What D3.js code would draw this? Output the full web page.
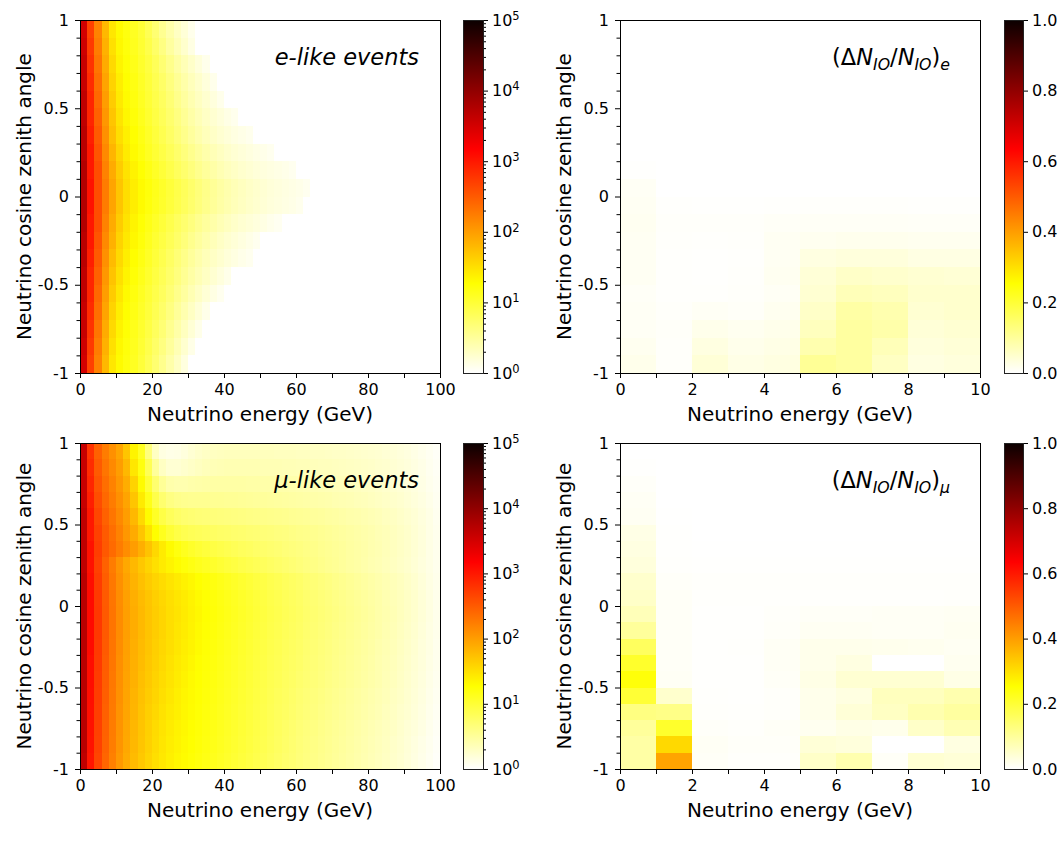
<!DOCTYPE html>
<html>
<head>
<meta charset="utf-8">
<script src="https://cdn.jsdelivr.net/npm/d3@7"></script>
<style>
  body { margin: 0; background: #fff; }
  svg { font-family: "DejaVu Sans", sans-serif; display: block; }
</style>
</head>
<body>
<svg id="chart" width="1062" height="845"></svg>
<script>
// bin edges
const cosEdges = [-1, -0.9, -0.8, -0.7, -0.6, -0.5, -0.4, -0.3, -0.2, -0.1, 0,
  0.1, 0.2, 0.3, 0.4, 0.5, 0.6, 0.7, 0.8, 0.9, 1];
const energyEdgesWide = [0, 2, 4, 6, 8, 10, 12, 14, 16, 18, 20, 22, 24, 26, 28, 30,
  32, 34, 36, 38, 40, 42, 44, 46, 48, 50, 52, 54, 56, 58, 60, 62, 64, 66, 68, 70,
  72, 74, 76, 78, 80, 82, 84, 86, 88, 90, 92, 94, 96, 98, 100];
const energyEdgesNarrow = [0, 1, 2, 3, 4, 5, 6, 7, 8, 9, 10];

// ticks
const cosTicks = [-1, -0.5, 0, 0.5, 1];
const cosMinorTicks = [-0.9, -0.8, -0.7, -0.6, -0.4, -0.3, -0.2, -0.1,
  0.1, 0.2, 0.3, 0.4, 0.6, 0.7, 0.8, 0.9];
const wideTicks = [0, 20, 40, 60, 80, 100];
const wideMinorTicks = [10, 30, 50, 70, 90];
const narrowTicks = [0, 2, 4, 6, 8, 10];
const narrowMinorTicks = [1, 3, 5, 7, 9];
const logTicks = [1, 10, 100, 1000, 10000, 100000];
const logMinorTicks = [2, 3, 4, 5, 6, 7, 8, 9, 20, 30, 40, 50, 60, 70, 80, 90,
  200, 300, 400, 500, 600, 700, 800, 900, 2000, 3000, 4000, 5000, 6000, 7000, 8000, 9000,
  20000, 30000, 40000, 50000, 60000, 70000, 80000, 90000];
const ratioTicks = [0, 0.2, 0.4, 0.6, 0.8, 1];

// e-like events, log10(count) per 2 GeV bin, rows from cos = 1 down to cos = -1
const eLikeExp = [
  [3.5, 2.7, 2.2, 1.8, 1.45, 1.3, 1.2, 1.1, 1.0, 0.85, 0.7, 0.55, 0.42, 0.3, 0.2, 0.1],
  [3.55, 2.75, 2.25, 1.85, 1.5, 1.32, 1.22, 1.12, 1.02, 0.9, 0.76, 0.62, 0.48, 0.36, 0.25, 0.14],
  [3.6, 2.8, 2.3, 1.9, 1.55, 1.35, 1.25, 1.15, 1.05, 0.95, 0.83, 0.7, 0.58, 0.46, 0.36, 0.27, 0.18, 0.1],
  [3.6, 2.85, 2.35, 1.95, 1.6, 1.4, 1.28, 1.18, 1.08, 0.98, 0.87, 0.76, 0.64, 0.53, 0.43, 0.34, 0.26, 0.18, 0.1],
  [3.65, 2.9, 2.4, 2.0, 1.65, 1.43, 1.3, 1.2, 1.1, 1.0, 0.9, 0.8, 0.69, 0.58, 0.48, 0.39, 0.31, 0.24, 0.17, 0.1],
  [3.65, 2.9, 2.45, 2.05, 1.7, 1.47, 1.33, 1.23, 1.13, 1.03, 0.93, 0.83, 0.73, 0.63, 0.53, 0.44, 0.36, 0.29, 0.23, 0.18, 0.13, 0.09],
  [3.7, 2.95, 2.5, 2.1, 1.75, 1.52, 1.38, 1.27, 1.17, 1.07, 0.97, 0.87, 0.77, 0.67, 0.58, 0.49, 0.41, 0.34, 0.28, 0.23, 0.19, 0.15, 0.12, 0.09],
  [3.7, 3.0, 2.55, 2.15, 1.82, 1.58, 1.42, 1.3, 1.2, 1.1, 1.01, 0.92, 0.83, 0.74, 0.65, 0.57, 0.49, 0.42, 0.36, 0.31, 0.26, 0.22, 0.19, 0.16, 0.13, 0.11, 0.08],
  [3.75, 3.0, 2.6, 2.2, 1.9, 1.65, 1.48, 1.36, 1.26, 1.17, 1.08, 0.99, 0.9, 0.81, 0.73, 0.65, 0.57, 0.5, 0.44, 0.38, 0.33, 0.29, 0.25, 0.22, 0.19, 0.17, 0.15, 0.13, 0.11, 0.08],
  [3.75, 3.05, 2.6, 2.25, 1.95, 1.7, 1.52, 1.4, 1.3, 1.22, 1.14, 1.06, 0.98, 0.9, 0.82, 0.74, 0.66, 0.59, 0.52, 0.46, 0.41, 0.36, 0.32, 0.28, 0.25, 0.22, 0.19, 0.17, 0.15, 0.13, 0.11, 0.08],
  [3.75, 3.05, 2.6, 2.25, 1.95, 1.7, 1.52, 1.4, 1.3, 1.21, 1.13, 1.05, 0.97, 0.89, 0.81, 0.73, 0.65, 0.58, 0.51, 0.45, 0.4, 0.35, 0.31, 0.27, 0.24, 0.21, 0.18, 0.16, 0.14, 0.12, 0.09],
  [3.75, 3.0, 2.6, 2.2, 1.9, 1.65, 1.48, 1.35, 1.25, 1.16, 1.07, 0.98, 0.89, 0.8, 0.72, 0.64, 0.56, 0.49, 0.43, 0.37, 0.32, 0.27, 0.23, 0.2, 0.17, 0.14, 0.1, 0.07],
  [3.7, 3.0, 2.55, 2.15, 1.85, 1.6, 1.44, 1.32, 1.22, 1.12, 1.02, 0.93, 0.84, 0.75, 0.66, 0.57, 0.49, 0.42, 0.35, 0.29, 0.24, 0.2, 0.16, 0.12, 0.08],
  [3.7, 2.95, 2.5, 2.1, 1.78, 1.55, 1.4, 1.28, 1.18, 1.08, 0.98, 0.88, 0.78, 0.68, 0.59, 0.5, 0.42, 0.35, 0.29, 0.24, 0.19, 0.15, 0.11, 0.08],
  [3.65, 2.9, 2.45, 2.05, 1.72, 1.5, 1.35, 1.24, 1.14, 1.04, 0.94, 0.84, 0.74, 0.64, 0.54, 0.45, 0.37, 0.3, 0.23, 0.17, 0.11],
  [3.65, 2.9, 2.4, 2.0, 1.66, 1.45, 1.31, 1.2, 1.1, 1.0, 0.9, 0.8, 0.69, 0.58, 0.48, 0.38, 0.29, 0.21, 0.14, 0.08],
  [3.6, 2.85, 2.35, 1.95, 1.6, 1.4, 1.28, 1.17, 1.07, 0.97, 0.86, 0.75, 0.63, 0.51, 0.4, 0.3, 0.2, 0.11],
  [3.6, 2.8, 2.3, 1.9, 1.55, 1.36, 1.25, 1.14, 1.04, 0.93, 0.81, 0.69, 0.56, 0.44, 0.32, 0.21, 0.11],
  [3.55, 2.75, 2.25, 1.85, 1.5, 1.32, 1.22, 1.12, 1.01, 0.89, 0.76, 0.63, 0.5, 0.37, 0.24, 0.12],
  [3.5, 2.7, 2.2, 1.8, 1.45, 1.3, 1.2, 1.1, 0.98, 0.85, 0.71, 0.57, 0.43, 0.3, 0.16]
];

// mu-like events, log10(count) per 2 GeV bin, rows from cos = 1 down to cos = -1
const muLikeExp = [
  [3.6, 2.8, 2.45, 2.25, 2.1, 1.95, 1.7, 1.35, 1.1, 0.65,
   0.3, 0.15, 0.12, 0.13, 0.17, 0.22, 0.26, 0.29, 0.31, 0.32,
   0.33, 0.33, 0.33, 0.33, 0.33, 0.33, 0.33, 0.32, 0.32, 0.32,
   0.31, 0.31, 0.3, 0.3, 0.29, 0.28, 0.28, 0.27, 0.26, 0.25,
   0.24, 0.23, 0.21, 0.2, 0.18, 0.16, 0.13, 0.1, 0.07, 0.04],
  [3.6, 2.85, 2.5, 2.3, 2.15, 2.0, 1.8, 1.45, 1.2, 0.85,
   0.5, 0.3, 0.22, 0.22, 0.25, 0.28, 0.31, 0.34, 0.36, 0.37,
   0.38, 0.38, 0.38, 0.38, 0.38, 0.37, 0.37, 0.37, 0.36, 0.36,
   0.35, 0.35, 0.34, 0.33, 0.33, 0.32, 0.31, 0.3, 0.29, 0.28,
   0.27, 0.25, 0.24, 0.22, 0.2, 0.18, 0.15, 0.12, 0.08, 0.05],
  [3.6, 2.9, 2.55, 2.35, 2.2, 2.05, 1.88, 1.6, 1.3, 1.0,
   0.72, 0.52, 0.42, 0.4, 0.4, 0.42, 0.43, 0.44, 0.45, 0.45,
   0.45, 0.45, 0.45, 0.44, 0.44, 0.43, 0.43, 0.42, 0.42, 0.41,
   0.4, 0.39, 0.38, 0.37, 0.36, 0.35, 0.34, 0.33, 0.32, 0.3,
   0.29, 0.27, 0.25, 0.23, 0.21, 0.19, 0.16, 0.13, 0.09, 0.06],
  [3.6, 2.95, 2.6, 2.4, 2.25, 2.1, 1.95, 1.7, 1.42, 1.15,
   0.9, 0.72, 0.62, 0.58, 0.56, 0.55, 0.55, 0.55, 0.54, 0.54,
   0.53, 0.53, 0.52, 0.51, 0.5, 0.5, 0.49, 0.48, 0.47, 0.46,
   0.45, 0.44, 0.43, 0.42, 0.41, 0.39, 0.38, 0.37, 0.35, 0.34,
   0.32, 0.3, 0.28, 0.26, 0.24, 0.21, 0.18, 0.15, 0.11, 0.07],
  [3.65, 3.0, 2.65, 2.45, 2.3, 2.15, 2.0, 1.8, 1.55, 1.3,
   1.08, 0.92, 0.82, 0.76, 0.72, 0.7, 0.68, 0.67, 0.66, 0.65,
   0.64, 0.63, 0.62, 0.61, 0.6, 0.59, 0.58, 0.57, 0.56, 0.54,
   0.53, 0.52, 0.5, 0.49, 0.47, 0.46, 0.44, 0.42, 0.41, 0.39,
   0.37, 0.35, 0.32, 0.3, 0.27, 0.24, 0.21, 0.17, 0.13, 0.08],
  [3.65, 3.0, 2.7, 2.5, 2.35, 2.2, 2.05, 1.9, 1.7, 1.48,
   1.28, 1.12, 1.0, 0.92, 0.87, 0.84, 0.82, 0.8, 0.78, 0.76,
   0.75, 0.73, 0.72, 0.7, 0.69, 0.67, 0.66, 0.64, 0.63, 0.61,
   0.59, 0.58, 0.56, 0.54, 0.52, 0.5, 0.48, 0.46, 0.44, 0.42,
   0.4, 0.37, 0.35, 0.32, 0.29, 0.26, 0.22, 0.18, 0.13, 0.09],
  [3.65, 3.05, 2.72, 2.52, 2.38, 2.25, 2.12, 2.0, 1.87, 1.72,
   1.56, 1.42, 1.3, 1.2, 1.12, 1.06, 1.01, 0.97, 0.93, 0.9,
   0.87, 0.84, 0.81, 0.79, 0.76, 0.74, 0.72, 0.7, 0.67, 0.65,
   0.63, 0.61, 0.59, 0.56, 0.54, 0.52, 0.5, 0.47, 0.45, 0.43,
   0.4, 0.38, 0.35, 0.32, 0.29, 0.26, 0.22, 0.18, 0.13, 0.09],
  [3.65, 3.05, 2.7, 2.45, 2.25, 2.07, 1.92, 1.8, 1.69, 1.59,
   1.5, 1.42, 1.35, 1.29, 1.23, 1.18, 1.13, 1.09, 1.05, 1.01,
   0.97, 0.94, 0.9, 0.87, 0.84, 0.81, 0.78, 0.75, 0.72, 0.69,
   0.66, 0.63, 0.61, 0.58, 0.55, 0.53, 0.5, 0.47, 0.45, 0.42,
   0.39, 0.37, 0.34, 0.31, 0.28, 0.25, 0.21, 0.17, 0.13, 0.09],
  [3.7, 3.08, 2.73, 2.48, 2.28, 2.1, 1.96, 1.84, 1.74, 1.66,
   1.59, 1.53, 1.47, 1.42, 1.37, 1.32, 1.27, 1.23, 1.19, 1.15,
   1.11, 1.07, 1.03, 0.99, 0.95, 0.92, 0.88, 0.85, 0.81, 0.78,
   0.75, 0.71, 0.68, 0.65, 0.62, 0.59, 0.56, 0.53, 0.5, 0.47,
   0.44, 0.41, 0.38, 0.35, 0.32, 0.28, 0.24, 0.19, 0.14, 0.1],
  [3.7, 3.1, 2.75, 2.5, 2.3, 2.12, 1.98, 1.87, 1.78, 1.7,
   1.63, 1.57, 1.51, 1.46, 1.41, 1.36, 1.31, 1.26, 1.22, 1.18,
   1.14, 1.1, 1.06, 1.02, 0.98, 0.94, 0.9, 0.87, 0.83, 0.8,
   0.77, 0.73, 0.7, 0.67, 0.64, 0.61, 0.58, 0.55, 0.52, 0.49,
   0.46, 0.43, 0.39, 0.36, 0.33, 0.29, 0.25, 0.2, 0.15, 0.1],
  [3.7, 3.1, 2.76, 2.51, 2.31, 2.13, 1.99, 1.88, 1.79, 1.71,
   1.64, 1.58, 1.52, 1.47, 1.42, 1.37, 1.32, 1.27, 1.23, 1.19,
   1.15, 1.11, 1.07, 1.03, 0.99, 0.95, 0.91, 0.88, 0.84, 0.81,
   0.78, 0.74, 0.71, 0.68, 0.65, 0.62, 0.59, 0.56, 0.53, 0.5,
   0.47, 0.43, 0.4, 0.37, 0.33, 0.29, 0.25, 0.2, 0.15, 0.1],
  [3.7, 3.1, 2.76, 2.51, 2.31, 2.13, 1.99, 1.88, 1.79, 1.71,
   1.64, 1.58, 1.52, 1.46, 1.41, 1.36, 1.31, 1.26, 1.22, 1.18,
   1.14, 1.1, 1.06, 1.02, 0.98, 0.94, 0.9, 0.87, 0.83, 0.8,
   0.77, 0.73, 0.7, 0.67, 0.64, 0.61, 0.58, 0.55, 0.52, 0.49,
   0.46, 0.43, 0.39, 0.36, 0.32, 0.28, 0.24, 0.19, 0.14, 0.1],
  [3.7, 3.1, 2.75, 2.5, 2.3, 2.12, 1.98, 1.87, 1.78, 1.7,
   1.63, 1.57, 1.51, 1.45, 1.4, 1.35, 1.3, 1.25, 1.21, 1.17,
   1.13, 1.09, 1.05, 1.01, 0.97, 0.93, 0.89, 0.86, 0.82, 0.79,
   0.76, 0.72, 0.69, 0.66, 0.63, 0.6, 0.57, 0.54, 0.51, 0.48,
   0.45, 0.41, 0.38, 0.35, 0.31, 0.27, 0.23, 0.18, 0.14, 0.09],
  [3.7, 3.08, 2.74, 2.49, 2.29, 2.11, 1.97, 1.86, 1.77, 1.69,
   1.62, 1.55, 1.49, 1.43, 1.38, 1.33, 1.28, 1.24, 1.2, 1.16,
   1.12, 1.08, 1.04, 1.0, 0.96, 0.92, 0.88, 0.85, 0.81, 0.78,
   0.75, 0.71, 0.68, 0.65, 0.62, 0.59, 0.56, 0.53, 0.5, 0.47,
   0.44, 0.4, 0.37, 0.34, 0.3, 0.26, 0.22, 0.18, 0.13, 0.09],
  [3.7, 3.08, 2.73, 2.48, 2.28, 2.1, 1.96, 1.85, 1.75, 1.67,
   1.6, 1.53, 1.47, 1.41, 1.36, 1.31, 1.27, 1.23, 1.19, 1.15,
   1.11, 1.07, 1.03, 0.99, 0.95, 0.91, 0.87, 0.84, 0.8, 0.77,
   0.73, 0.7, 0.67, 0.64, 0.61, 0.58, 0.55, 0.52, 0.49, 0.46,
   0.43, 0.4, 0.36, 0.33, 0.29, 0.25, 0.21, 0.17, 0.12, 0.08],
  [3.7, 3.07, 2.72, 2.47, 2.27, 2.09, 1.95, 1.83, 1.73, 1.65,
   1.58, 1.51, 1.45, 1.39, 1.34, 1.3, 1.26, 1.22, 1.18, 1.14,
   1.1, 1.06, 1.02, 0.98, 0.94, 0.9, 0.86, 0.82, 0.79, 0.75,
   0.71, 0.68, 0.65, 0.62, 0.59, 0.56, 0.53, 0.5, 0.47, 0.44,
   0.41, 0.38, 0.35, 0.31, 0.28, 0.24, 0.2, 0.16, 0.11, 0.07],
  [3.7, 3.06, 2.71, 2.46, 2.26, 2.08, 1.94, 1.82, 1.72, 1.63,
   1.56, 1.49, 1.43, 1.38, 1.33, 1.29, 1.25, 1.21, 1.17, 1.13,
   1.09, 1.05, 1.01, 0.97, 0.93, 0.89, 0.85, 0.81, 0.78, 0.74,
   0.7, 0.67, 0.64, 0.61, 0.58, 0.55, 0.52, 0.49, 0.46, 0.43,
   0.4, 0.37, 0.33, 0.3, 0.26, 0.23, 0.19, 0.15, 0.1, 0.06],
  [3.7, 3.05, 2.7, 2.45, 2.25, 2.07, 1.93, 1.81, 1.71, 1.62,
   1.54, 1.47, 1.41, 1.36, 1.32, 1.28, 1.24, 1.2, 1.16, 1.12,
   1.08, 1.04, 1.0, 0.96, 0.92, 0.88, 0.84, 0.8, 0.76, 0.72,
   0.68, 0.65, 0.62, 0.59, 0.56, 0.53, 0.5, 0.47, 0.44, 0.41,
   0.38, 0.35, 0.32, 0.29, 0.25, 0.21, 0.18, 0.14, 0.09, 0.05],
  [3.7, 3.04, 2.69, 2.44, 2.24, 2.06, 1.92, 1.8, 1.7, 1.61,
   1.53, 1.46, 1.4, 1.35, 1.31, 1.27, 1.23, 1.19, 1.15, 1.11,
   1.07, 1.03, 0.99, 0.95, 0.91, 0.87, 0.83, 0.79, 0.75, 0.71,
   0.67, 0.64, 0.61, 0.58, 0.55, 0.52, 0.49, 0.46, 0.43, 0.4,
   0.37, 0.34, 0.31, 0.27, 0.24, 0.2, 0.16, 0.12, 0.08, 0.04],
  [3.65, 3.02, 2.67, 2.42, 2.22, 2.04, 1.9, 1.78, 1.68, 1.59,
   1.51, 1.44, 1.38, 1.33, 1.29, 1.25, 1.21, 1.17, 1.13, 1.09,
   1.05, 1.01, 0.97, 0.93, 0.89, 0.85, 0.81, 0.77, 0.73, 0.7,
   0.66, 0.63, 0.6, 0.57, 0.54, 0.51, 0.48, 0.45, 0.42, 0.39,
   0.36, 0.33, 0.3, 0.26, 0.23, 0.19, 0.15, 0.11, 0.07, 0.03]
];

// (dN_IO / N_IO) per 1 GeV bin, rows from cos = 1 down to cos = -1
const eRatio = [
  [0, 0, 0, 0, 0, 0, 0, 0, 0, 0],
  [0, 0, 0, 0, 0, 0, 0, 0, 0, 0],
  [0, 0, 0, 0, 0, 0, 0, 0, 0, 0],
  [0, 0, 0, 0, 0, 0, 0, 0, 0, 0],
  [0, 0, 0, 0, 0, 0, 0, 0, 0, 0],
  [0, 0, 0, 0, 0, 0, 0, 0, 0, 0],
  [0, 0, 0, 0, 0, 0, 0, 0, 0, 0],
  [0, 0, 0, 0, 0, 0, 0, 0, 0, 0],
  [0.002, 0, 0, 0, 0, 0, 0, 0, 0, 0],
  [0.01, 0, 0, 0, 0, 0, 0, 0, 0, 0],
  [0.012, 0.003, 0.002, 0.002, 0.003, 0.004, 0.004, 0.004, 0.003, 0.003],
  [0.014, 0.005, 0.005, 0.005, 0.008, 0.009, 0.009, 0.009, 0.008, 0.008],
  [0.012, 0.004, 0.003, 0.004, 0.012, 0.015, 0.018, 0.018, 0.016, 0.016],
  [0.012, 0.003, 0.002, 0.003, 0.012, 0.03, 0.035, 0.035, 0.028, 0.028],
  [0.012, 0.003, 0.002, 0.004, 0.014, 0.04, 0.055, 0.05, 0.045, 0.042],
  [0.008, 0.003, 0.003, 0.005, 0.01, 0.045, 0.07, 0.065, 0.05, 0.05],
  [0.01, 0.005, 0.01, 0.007, 0.015, 0.055, 0.09, 0.08, 0.045, 0.05],
  [0.01, 0.006, 0.02, 0.015, 0.02, 0.065, 0.095, 0.085, 0.04, 0.045],
  [0.015, 0.005, 0.03, 0.02, 0.025, 0.08, 0.095, 0.07, 0.035, 0.04],
  [0.02, 0.005, 0.04, 0.025, 0.03, 0.105, 0.095, 0.06, 0.03, 0.035]
];

const muRatio = [
  [0, 0, 0, 0, 0, 0, 0, 0, 0, 0],
  [0.002, 0, 0, 0, 0, 0, 0, 0, 0, 0],
  [0.006, 0, 0, 0, 0, 0, 0, 0, 0, 0],
  [0.01, 0, 0, 0, 0, 0, 0, 0, 0, 0],
  [0.012, 0.001, 0, 0, 0, 0, 0, 0, 0, 0],
  [0.025, 0.002, 0, 0, 0, 0, 0, 0, 0, 0],
  [0.03, 0.002, 0.001, 0.001, 0.001, 0.001, 0.001, 0.001, 0.001, 0.001],
  [0.035, 0.003, 0.002, 0.002, 0.002, 0.002, 0.002, 0.002, 0.002, 0.002],
  [0.05, 0.006, 0.004, 0.004, 0.004, 0.004, 0.004, 0.004, 0.004, 0.004],
  [0.055, 0.008, 0.003, 0.003, 0.003, 0.003, 0.003, 0.003, 0.003, 0.004],
  [0.07, 0.008, 0.002, 0.002, 0.005, 0.008, 0.008, 0.01, 0.01, 0.012],
  [0.1, 0.008, 0.002, 0.002, 0.006, 0.012, 0.012, 0.01, 0.01, 0.014],
  [0.16, 0.008, 0.002, 0.003, 0.01, 0.02, 0.02, 0.018, 0.016, 0.012],
  [0.21, 0.008, 0.002, 0.002, 0.01, 0.02, 0.03, 0.0, 0.0, 0.015],
  [0.245, 0.01, 0.002, 0.002, 0.008, 0.025, 0.045, 0.045, 0.045, 0.025],
  [0.2, 0.05, 0.003, 0.002, 0.005, 0.02, 0.03, 0.065, 0.065, 0.08],
  [0.125, 0.12, 0.004, 0.003, 0.005, 0.02, 0.04, 0.06, 0.08, 0.095],
  [0.1, 0.21, 0.006, 0.004, 0.008, 0.015, 0.025, 0.02, 0.055, 0.075],
  [0.09, 0.31, 0.01, 0.006, 0.006, 0.04, 0.035, 0.0, 0.0, 0.03],
  [0.09, 0.39, 0.008, 0.004, 0.004, 0.055, 0.08, 0.008, 0.045, 0.04]
];

// matplotlib "hot" reversed
function hotR(t) {
  const s = 1 - Math.max(0, Math.min(1, t));
  const clamp = (v) => Math.max(0, Math.min(1, v));
  const r = s < 0.365079 ? 0.0416 + (1 - 0.0416) * s / 0.365079 : 1;
  const g = clamp((s - 0.365079) / (0.746032 - 0.365079));
  const b = clamp((s - 0.746032) / (1 - 0.746032));
  return d3.rgb(r * 255, g * 255, b * 255).formatHex();
}

const svg = d3.select('#chart');
const defs = svg.append('defs');

const countNorm = d3.scaleLog().domain([1, 1e5]).range([0, 1]).clamp(true);
const ratioNorm = d3.scaleLinear().domain([0, 1]).range([0, 1]).clamp(true);

const tickFont = 16;
const labelFont = 20;

function styleAxis(sel) {
  sel.select('.domain').remove();
  sel.selectAll('text').attr('font-size', tickFont).attr('font-family', '"DejaVu Sans"').attr('fill', '#000');
  sel.selectAll('line').attr('stroke', '#000');
  sel.attr('font-size', null).attr('font-family', null);
}

function drawPanel(p) {
  const g = svg.append('g').attr('transform', `translate(${p.left},${p.top})`);
  const xEnd = p.xEdges[p.xEdges.length - 1];
  const x = d3.scaleLinear().domain([0, xEnd]).range([0, p.width]);
  const y = d3.scaleLinear().domain([-1, 1]).range([p.height, 0]);
  const n = cosEdges.length;

  const cells = [];
  p.rows.forEach((row, r) => {
    const lo = cosEdges[n - 2 - r];
    const hi = cosEdges[n - 1 - r];
    row.forEach((v, c) => {
      cells.push({ e0: p.xEdges[c], e1: p.xEdges[c + 1], lo, hi, v });
    });
  });

  g.append('g')
    .selectAll('rect')
    .data(cells)
    .join('rect')
    .attr('x', (d) => x(d.e0))
    .attr('width', (d) => x(d.e1) - x(d.e0))
    .attr('y', (d) => y(d.hi))
    .attr('height', (d) => y(d.lo) - y(d.hi))
    .attr('fill', (d) => p.color(d.v))
    .attr('shape-rendering', 'crispEdges');

  g.append('g')
    .call(d3.axisLeft(y).tickValues(cosMinorTicks).tickSize(3.5).tickFormat(''))
    .call(styleAxis);
  g.append('g')
    .call(d3.axisLeft(y).tickValues(cosTicks).tickSize(5).tickPadding(6).tickFormat((d) => String(d)))
    .call(styleAxis);

  g.append('g')
    .attr('transform', `translate(0,${p.height})`)
    .call(d3.axisBottom(x).tickValues(p.minorTicks).tickSize(5).tickFormat(''))
    .call(styleAxis);
  g.append('g')
    .attr('transform', `translate(0,${p.height})`)
    .call(d3.axisBottom(x).tickValues(p.ticks).tickSize(5).tickPadding(6).tickFormat((d) => String(d)))
    .call(styleAxis);

  g.append('rect')
    .attr('width', p.width)
    .attr('height', p.height)
    .attr('fill', 'none')
    .attr('stroke', '#000')
    .attr('stroke-width', 1)
    .attr('shape-rendering', 'crispEdges');

  g.append('text')
    .attr('x', p.width / 2)
    .attr('y', p.height + 48)
    .attr('text-anchor', 'middle')
    .attr('font-size', labelFont)
    .text('Neutrino energy (GeV)');

  g.append('text')
    .attr('transform', `translate(${-49},${p.height / 2}) rotate(-90)`)
    .attr('text-anchor', 'middle')
    .attr('font-size', labelFont)
    .text('Neutrino cosine zenith angle');

  const note = g.append('text')
    .attr('x', p.noteX)
    .attr('y', 45)
    .attr('text-anchor', 'end')
    .attr('font-size', 22.5);
  p.note(note);
}

function drawColorbar(c) {
  const id = `grad-${c.id}`;
  const grad = defs.append('linearGradient')
    .attr('id', id)
    .attr('x1', 0).attr('y1', 1).attr('x2', 0).attr('y2', 0);
  d3.range(0, 257).forEach((i) => {
    grad.append('stop')
      .attr('offset', i / 256)
      .attr('stop-color', hotR(i / 256));
  });

  const g = svg.append('g').attr('transform', `translate(${c.left},${c.top})`);
  g.append('rect')
    .attr('width', c.width)
    .attr('height', c.height)
    .attr('fill', `url(#${id})`);

  const axisG = g.append('g').attr('transform', `translate(${c.width},0)`);
  if (c.log) {
    const s = d3.scaleLog().domain([1, 1e5]).range([c.height, 0]);
    axisG.append('g')
      .call(d3.axisRight(s).tickValues(logMinorTicks).tickSize(3).tickFormat(''))
      .call(styleAxis);
    const major = axisG.append('g')
      .call(d3.axisRight(s).tickValues(logTicks).tickSize(5).tickPadding(4).tickFormat(''))
      .call(styleAxis);
    major.selectAll('.tick text').each(function (d) {
      const t = d3.select(this);
      t.text('10');
      t.append('tspan')
        .attr('dy', '-0.5em')
        .attr('font-size', 11.5)
        .text(String(Math.round(Math.log10(d))));
    });
  } else {
    const s = d3.scaleLinear().domain([0, 1]).range([c.height, 0]);
    axisG.append('g')
      .call(d3.axisRight(s).tickValues(ratioTicks).tickSize(5).tickPadding(4).tickFormat(d3.format('.1f')))
      .call(styleAxis);
  }

  g.append('rect')
    .attr('width', c.width)
    .attr('height', c.height)
    .attr('fill', 'none')
    .attr('stroke', '#222')
    .attr('stroke-width', 1)
    .attr('shape-rendering', 'crispEdges');
}

function ratioNote(flavour) {
  return (t) => {
    t.append('tspan').text('(Δ');
    t.append('tspan').attr('font-style', 'italic').text('N');
    t.append('tspan').attr('font-style', 'italic').attr('font-size', 15.75).attr('dy', 5).text('IO');
    t.append('tspan').attr('dy', -5).text('/');
    t.append('tspan').attr('font-style', 'italic').text('N');
    t.append('tspan').attr('font-style', 'italic').attr('font-size', 15.75).attr('dy', 5).text('IO');
    t.append('tspan').attr('dy', -5).text(')');
    t.append('tspan').attr('font-style', 'italic').attr('font-size', 15.75).attr('dy', 5).text(flavour);
  };
}

const countColor = (exp) => hotR(countNorm(Math.pow(10, exp)));
const ratioColor = (v) => hotR(ratioNorm(v));

drawPanel({
  left: 80, top: 20, width: 360, height: 353,
  xEdges: energyEdgesWide, rows: eLikeExp, color: countColor,
  ticks: wideTicks, minorTicks: wideMinorTicks, noteX: 339,
  note: (t) => t.attr('font-style', 'italic').text('e-like events')
});
drawPanel({
  left: 620, top: 20, width: 360, height: 353,
  xEdges: energyEdgesNarrow, rows: eRatio, color: ratioColor,
  ticks: narrowTicks, minorTicks: narrowMinorTicks, noteX: 330,
  note: ratioNote('e')
});
drawPanel({
  left: 80, top: 443, width: 360, height: 326,
  xEdges: energyEdgesWide, rows: muLikeExp, color: countColor,
  ticks: wideTicks, minorTicks: wideMinorTicks, noteX: 339,
  note: (t) => t.attr('font-style', 'italic').text('μ-like events')
});
drawPanel({
  left: 620, top: 443, width: 360, height: 326,
  xEdges: energyEdgesNarrow, rows: muRatio, color: ratioColor,
  ticks: narrowTicks, minorTicks: narrowMinorTicks, noteX: 330,
  note: ratioNote('μ')
});

drawColorbar({ id: 'e-count', left: 463, top: 20, width: 20, height: 353, log: true });
drawColorbar({ id: 'e-ratio', left: 1004, top: 20, width: 19, height: 353, log: false });
drawColorbar({ id: 'mu-count', left: 463, top: 443, width: 20, height: 326, log: true });
drawColorbar({ id: 'mu-ratio', left: 1004, top: 443, width: 19, height: 326, log: false });
</script>
</body>
</html>
